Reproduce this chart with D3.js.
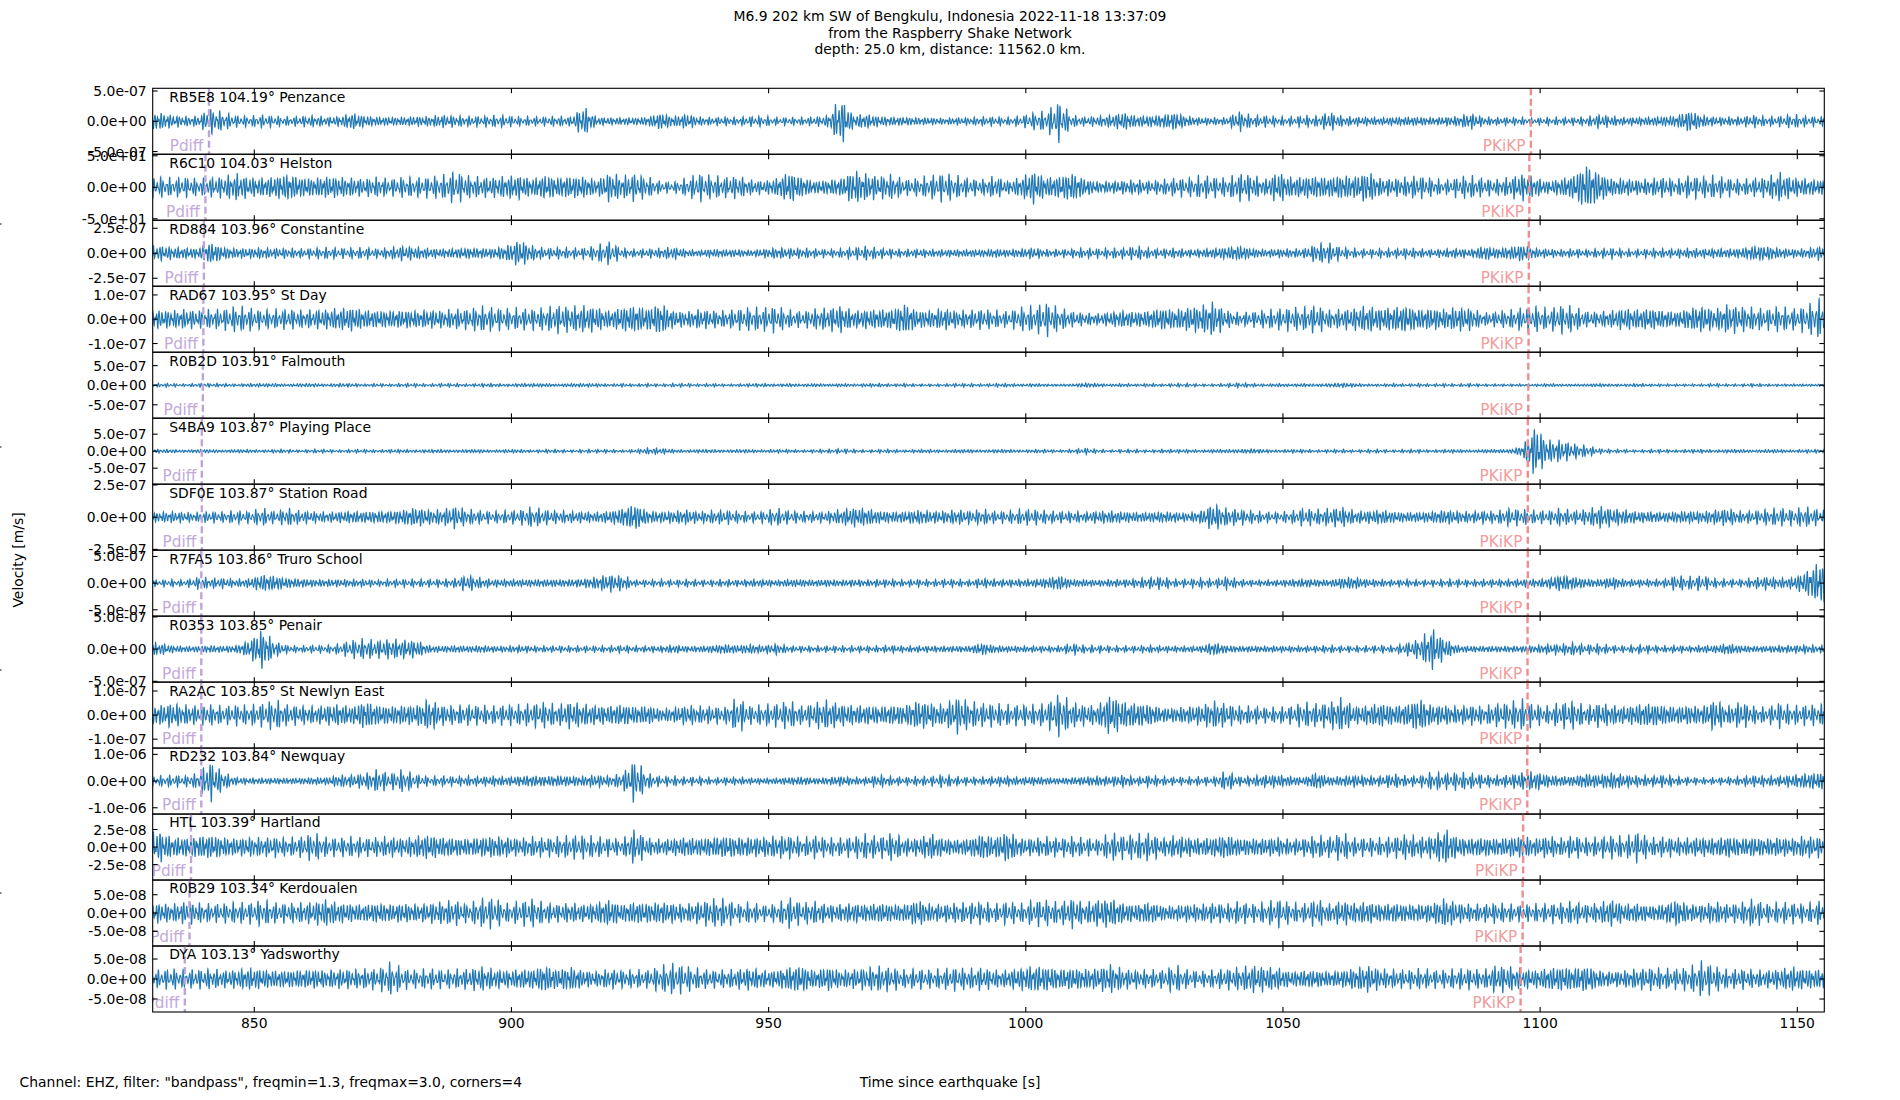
<!DOCTYPE html>
<html><head><meta charset="utf-8">
<script src="https://cdn.jsdelivr.net/npm/d3@7/dist/d3.min.js"></script>
<style>body{margin:0;background:#fff} text{font-family:"DejaVu Sans",sans-serif;}</style>
</head><body>
<svg id="chart" width="1900" height="1100"></svg>
<script>
// ---------------- DATA ----------------
const titleLines = ["M6.9 202 km SW of Bengkulu, Indonesia 2022-11-18 13:37:09",
  "from the Raspberry Shake Network", "depth: 25.0 km, distance: 11562.0 km."];
const stationIds = ["RB5E8","R6C10","RD884","RAD67","R0B2D","S4BA9","SDF0E","R7FA5","R0353","RA2AC","RD232","HTL","R0B29","DYA"];
const distances = ["104.19","104.03","103.96","103.95","103.91","103.87","103.87","103.86","103.85","103.85","103.84","103.39","103.34","103.13"];
const places = ["Penzance","Helston","Constantine","St Day","Falmouth","Playing Place","Station Road","Truro School","Penair","St Newlyn East","Newquay","Hartland","Kerdoualen","Yadsworthy"];
const pdiffTimes = [841.2,840.5,840.2,840.1,840.0,839.8,839.8,839.7,839.7,839.7,839.7,837.7,837.4,836.5];
const pkikpTimes = [1098.2,1097.9,1097.8,1097.75,1097.7,1097.6,1097.6,1097.6,1097.55,1097.55,1097.5,1096.7,1096.6,1096.2];
const yLimits = [5.45e-7,52.4,3.3e-7,1.358e-7,8.42e-7,9.7e-7,2.56e-7,6.19e-7,5.12e-7,1.37e-7,1.236e-6,4.7e-8,9.0e-8,8.25e-8];
const yTicks = [[-5e-7,0,5e-7],[-50,0,50],[-2.5e-7,0,2.5e-7],[-1e-7,0,1e-7],[-5e-7,0,5e-7],[-5e-7,0,5e-7],
  [-2.5e-7,0,2.5e-7],[-5e-7,0,5e-7],[-5e-7,0,5e-7],[-1e-7,0,1e-7],[-1e-6,0,1e-6],[-2.5e-8,0,2.5e-8],[-5e-8,0,5e-8],[-5e-8,0,5e-8]];
const xTicks = [850,900,950,1000,1050,1100,1150];
const timeRange = [830.25, 1155.25];
const binWidth = 2.5; // seconds per envelope value
// velocity per envelope step (m/s; counts for R6C10)
const envUnit = [0.982e-8,0.945,0.595e-8,0.245e-8,1.52e-8,1.75e-8,0.463e-8,1.116e-8,0.925e-8,0.247e-8,2.23e-8,0.085e-8,0.163e-8,0.149e-8];
// peak amplitude per 2.5 s window
const env_RB5E8 = [14,10,8,8,20,14,9,8,10,8, 7,8,9,7,8,14,9,7,7,7, 8,8,10,9,8,8,9,9,7,7, 7,8,7,24,7,6,6,6,7,14, 8,12,7,6,7,6,8,8,6,6, 6,7,9,38,10,12,8,7,7,6, 6,5,6,6,7,7,6,8,13,16, 32,9,7,8,10,15,9,9,10,15, 8,6,6,6,16,9,9,7,7,9, 8,15,8,7,7,6,7,7,7,6, 7,8,13,7,6,6,6,5,6,6, 6,7,11,8,6,7,7,8,9,18, 10,7,7,7,10,7,8,11,8,7];
const env_R6C10 = [16,14,16,13,15,17,22,16,15,18, 22,16,15,18,17,15,14,16,13,16, 15,16,18,25,18,16,16,18,20,14, 20,16,18,18,12,24,18,22,16,9, 8,14,22,18,16,18,12,10,14,26, 16,10,12,14,28,22,18,20,12,14, 18,22,18,14,12,18,10,16,28,16, 18,24,14,9,10,11,12,10,12,14, 14,18,16,14,22,20,12,26,16,18, 18,16,20,18,26,14,14,16,18,14, 10,16,18,14,12,16,22,16,10,14, 20,38,24,14,14,12,14,16,12,18, 16,18,14,12,14,16,24,16,14,12];
const env_RD884 = [12,10,9,8,18,10,8,8,9,8, 8,7,8,9,8,8,9,7,9,12, 10,8,7,8,9,8,8,12,22,12, 8,9,8,8,12,18,8,6,7,8, 10,6,5,7,6,6,5,7,9,8, 8,7,6,7,9,11,8,7,6,7, 6,6,6,6,6,7,6,7,9,6, 6,7,8,7,8,8,11,8,7,8, 6,7,8,10,12,8,6,7,7,7, 15,16,9,7,6,7,7,8,7,6, 7,8,6,12,8,10,14,8,7,6, 7,6,7,8,6,6,7,7,7,8, 7,8,7,8,12,12,8,7,7,11];
const env_RAD67 = [15,14,16,14,15,16,20,18,14,15, 16,14,15,16,18,20,15,14,14,15, 14,15,14,16,16,20,18,16,17,16, 18,22,20,22,20,14,20,22,18,26, 14,12,16,14,13,16,18,18,20,14, 12,16,18,22,14,16,16,16,26,14, 14,18,14,14,16,14,12,18,20,26, 18,12,10,9,12,14,12,14,18,16, 20,22,28,14,10,12,14,16,18,18, 22,14,16,18,22,18,20,22,16,18, 16,20,18,10,12,14,18,20,16,22, 20,12,12,14,18,16,18,14,12,18, 22,16,24,20,18,16,20,16,20,30];
const env_R0B2D = [3,3,2,3,3,3,2,3,3,3, 2,3,3,2,3,3,2,3,2,3, 3,2,3,3,2,3,3,2,3,3, 3,2,3,3,3,2,3,2,3,2, 3,3,2,3,2,2,3,3,2,3, 2,3,2,3,2,3,3,2,3,2, 2,2,3,3,2,3,3,2,3,2, 2,2,4,3,2,3,2,3,2,3, 3,2,2,3,4,3,2,3,2,3, 2,3,4,3,2,2,3,2,3,2, 3,2,3,2,2,2,2,2,3,2, 2,2,3,2,2,3,2,2,2,2, 2,3,2,2,3,2,2,2,2,2];
const env_S4BA9 = [3,3,2,3,3,2,3,3,2,3, 3,2,3,3,2,3,3,2,3,3, 2,3,3,2,3,3,2,3,3,2, 3,3,2,3,3,3,2,3,5,5, 3,2,3,3,2,3,3,2,3,3, 2,3,3,4,3,2,3,3,2,3, 3,2,3,3,2,3,3,2,3,3, 2,3,5,3,2,3,3,2,3,3, 3,2,3,3,3,4,3,2,3,3, 2,3,3,2,3,3,2,3,3,2, 3,3,2,3,3,3,8,42,18,18, 12,9,4,3,3,2,3,3,2,3, 3,2,3,3,2,3,3,2,3,3];
const env_SDF0E = [8,9,8,7,9,8,10,9,14,9, 14,10,9,8,9,10,9,10,10,12, 16,12,12,18,12,10,9,10,11,16, 12,10,9,9,8,10,14,22,10,9, 10,12,9,10,11,9,8,9,14,10, 9,8,9,12,16,14,10,9,9,12, 10,10,12,10,12,9,9,12,12,10, 9,9,8,10,10,9,8,8,9,8, 7,10,22,14,12,10,8,8,9,14, 12,14,16,10,10,12,9,8,8,9, 12,10,9,10,9,14,12,10,10,14, 10,12,18,14,12,9,9,8,9,10, 9,12,14,9,10,12,14,12,16,12];
const env_R7FA5 = [5,6,5,9,8,8,6,7,14,12, 8,7,6,6,6,6,6,5,6,6, 6,6,6,7,13,8,6,6,6,6, 6,6,6,7,10,14,12,5,5,6, 5,6,5,5,6,5,6,6,5,6, 6,5,6,5,6,5,6,6,5,6, 5,6,6,5,8,6,6,6,6,8, 12,6,6,5,6,6,7,9,10,6, 6,8,6,10,6,5,5,5,6,7, 6,5,9,10,6,6,5,6,5,5, 6,6,5,6,6,6,6,6,8,14, 10,7,6,10,6,6,6,6,12,10, 12,7,6,6,8,10,8,9,18,34];
const env_R0353 = [10,6,5,5,6,5,6,14,32,12, 6,5,6,6,8,14,16,14,16,15, 14,6,5,6,5,6,5,5,6,5, 5,5,5,5,5,5,6,5,5,5, 7,5,5,6,8,6,8,6,9,5, 5,5,5,5,5,5,5,6,5,5, 5,5,5,5,10,6,5,5,5,5, 5,9,6,6,5,5,5,6,5,5, 5,5,11,6,5,5,5,5,5,5, 5,6,5,5,5,6,5,10,16,34, 16,6,5,5,5,5,5,6,8,8, 10,7,8,6,5,7,6,5,6,5, 6,6,9,6,5,5,6,6,7,6];
const env_RA2AC = [16,20,16,15,16,14,16,15,18,24, 16,15,14,16,18,14,24,16,15,16, 16,26,16,15,16,15,14,16,16,18, 20,16,22,18,16,15,18,14,16,10, 12,16,14,14,12,28,14,16,18,22, 14,20,24,18,16,16,14,16,16,24, 20,16,30,22,18,18,16,16,16,18, 34,20,16,16,34,22,20,18,12,12, 14,16,22,18,14,14,12,12,14,20, 18,20,28,14,16,20,16,18,28,16, 16,14,16,14,18,20,24,16,14,20, 22,14,20,16,14,18,20,16,14,16, 14,26,14,22,14,12,20,14,16,16];
const env_RD232 = [8,9,8,12,32,14,6,5,5,5, 5,5,6,6,10,10,12,18,12,18, 10,7,8,7,8,7,8,7,8,9, 8,9,8,8,10,8,12,34,12,7, 8,6,7,5,6,6,5,5,5,6, 7,5,6,8,6,6,10,7,6,7, 7,10,7,6,6,7,8,6,7,6, 5,6,7,8,7,10,6,9,7,6, 6,7,6,16,7,8,10,10,8,6, 14,7,8,10,8,8,12,8,8,14, 12,14,12,10,8,10,14,16,10,8, 8,12,10,14,10,9,8,10,7,6, 5,5,6,7,9,8,8,10,12,14];
const env_HTL = [26,16,16,18,20,16,14,16,15,16, 14,16,22,15,14,16,14,15,16,14, 18,20,16,15,14,16,18,16,14,16, 14,16,18,18,16,14,12,28,14,12, 14,16,14,16,18,16,16,16,18,18, 14,18,14,14,16,20,16,22,14,14, 22,14,12,14,22,16,26,14,14,16, 14,16,14,12,22,18,20,22,14,18, 16,14,16,20,14,14,14,16,12,14, 18,16,22,14,14,14,16,20,16,18, 30,16,14,16,14,16,18,14,18,14, 18,14,16,18,16,24,14,16,14,14, 16,14,18,14,16,14,16,14,18,16];
const env_R0B29 = [16,14,18,16,14,15,16,16,20,16, 15,16,18,22,16,15,14,16,14,16, 14,16,18,20,14,22,24,14,18,22, 16,14,16,14,16,22,14,18,16,18, 16,14,18,22,22,14,16,12,14,24, 16,18,14,14,16,14,16,14,14,22, 14,14,16,16,18,14,18,14,20,20, 16,24,16,22,24,16,14,18,12,12, 14,14,16,14,18,14,16,22,16,14, 22,14,20,16,18,14,16,14,14,16, 24,16,14,14,16,14,12,14,14,16, 18,14,16,22,14,16,12,14,22,14, 14,18,14,16,22,14,16,16,14,18];
const env_DYA = [14,16,14,15,16,14,15,18,16,14, 14,15,16,14,16,15,16,16,26,16, 14,16,14,15,16,20,16,14,16,16, 22,16,20,14,12,16,14,14,14,20, 24,20,16,14,14,16,18,14,14,20, 22,14,20,14,16,18,20,18,14,16, 14,16,18,16,18,14,14,18,22,20, 16,18,16,18,24,16,14,14,14,22, 14,12,14,16,18,22,20,18,12,14, 14,12,14,18,22,16,14,14,16,14, 14,16,16,14,22,20,16,14,18,20, 18,22,14,12,14,16,18,16,16,18, 28,20,14,16,14,14,16,20,16,16];
const envelopes = [env_RB5E8,env_R6C10,env_RD884,env_RAD67,env_R0B2D,env_S4BA9,env_SDF0E,env_R7FA5,env_R0353,env_RA2AC,env_RD232,env_HTL,env_R0B29,env_DYA];

// ---------------- LAYOUT ----------------
const L = 152.7, R = 1824.3, T = 88.3, B = 1012;
const n = stationIds.length;
const ph = (B - T) / n;
const svg = d3.select("#chart");
const x = d3.scaleLinear().domain(timeRange).range([L, R]);
const fs = 13.9, tickLen = 4.9;
const fmtE = v => v.toExponential(1).replace(/e([+-])(\d)$/, "e$10$2");

function envAt(arr, t) {
  const u = (t - timeRange[0]) / binWidth - 0.5;
  const k = Math.floor(u), f = u - k;
  const c = i => arr[Math.max(0, Math.min(arr.length - 1, i))];
  return c(k) + (c(k + 1) - c(k)) * f;
}

const defs = svg.append("defs");
const dt = 0.04;

for (let i = 0; i < n; i++) {
  const top = T + i * ph, bot = top + ph;
  const y = d3.scaleLinear().domain([-yLimits[i], yLimits[i]]).range([bot, top]);
  const g = svg.append("g");
  defs.append("clipPath").attr("id", "clip" + i).append("rect")
    .attr("x", L).attr("y", top).attr("width", R - L).attr("height", ph);
  const inner = g.append("g").attr("clip-path", `url(#clip${i})`);

  // waveform: envelope, drawn with a band-limited carrier
  const p1 = i * 1.37, p2 = i * 2.11 + 0.5, p3 = i * 0.73 + 1.1;
  const pts = [];
  for (let t = timeRange[0]; t <= timeRange[1] + 1e-9; t += dt) {
    const c = 1.2 * (0.5 * Math.sin(2 * Math.PI * 1.67 * t + p1) + 0.3 * Math.sin(2 * Math.PI * 2.29 * t + p2) + 0.2 * Math.sin(2 * Math.PI * 2.89 * t + p3));
    pts.push([t, envAt(envelopes[i], t) * envUnit[i] * c]);
  }
  inner.append("path").datum(pts)
    .attr("d", d3.line().x(d => x(d[0])).y(d => y(d[1])))
    .attr("fill", "none").attr("stroke", "#1f77b4").attr("stroke-width", 1.1);

  // phase markers
  inner.append("line").attr("x1", x(pdiffTimes[i])).attr("x2", x(pdiffTimes[i])).attr("y1", top).attr("y2", bot)
    .attr("stroke", "#bfa4d7").attr("stroke-width", 2.4).attr("stroke-dasharray", "7,3.5");
  inner.append("line").attr("x1", x(pkikpTimes[i])).attr("x2", x(pkikpTimes[i])).attr("y1", top).attr("y2", bot)
    .attr("stroke", "#ee8f8f").attr("stroke-width", 2.4).attr("stroke-dasharray", "7,3.5");
  inner.append("text").attr("x", x(pdiffTimes[i]) - 5.6).attr("y", bot - 3.6)
    .attr("text-anchor", "end").attr("font-size", 15.3).attr("fill", "#c3a8da").text("Pdiff");
  inner.append("text").attr("x", x(pkikpTimes[i]) - 5.4).attr("y", bot - 3.6)
    .attr("text-anchor", "end").attr("font-size", 15.3).attr("fill", "#f29c9c").text("PKiKP");

  // station label
  g.append("text").attr("x", L + 16.6).attr("y", top + 13.4).attr("font-size", fs).attr("fill", "#000")
    .text(`${stationIds[i]} ${distances[i]}\u00b0 ${places[i]}`);

  // y ticks & labels
  yTicks[i].forEach(v => {
    const yy = y(v);
    g.append("line").attr("x1", L).attr("x2", L + tickLen).attr("y1", yy).attr("y2", yy).attr("stroke", "#000").attr("stroke-width", 1.1);
    g.append("line").attr("x1", R - tickLen).attr("x2", R).attr("y1", yy).attr("y2", yy).attr("stroke", "#000").attr("stroke-width", 1.1);
    g.append("text").attr("x", L - 6).attr("y", yy).attr("dy", "0.36em").attr("text-anchor", "end")
      .attr("font-size", fs).attr("fill", "#000").text(fmtE(v));
  });
  // x ticks (inward, top and bottom)
  xTicks.forEach(v => {
    const xx = x(v);
    g.append("line").attr("x1", xx).attr("x2", xx).attr("y1", top).attr("y2", top + tickLen).attr("stroke", "#000").attr("stroke-width", 1.1);
    g.append("line").attr("x1", xx).attr("x2", xx).attr("y1", bot - tickLen).attr("y2", bot).attr("stroke", "#000").attr("stroke-width", 1.1);
  });
  // frame
  g.append("rect").attr("x", L).attr("y", top).attr("width", R - L).attr("height", ph)
    .attr("fill", "none").attr("stroke", "#000").attr("stroke-width", 1.1);
}

// x tick labels on the bottom panel
xTicks.forEach(v => {
  svg.append("text").attr("x", x(v)).attr("y", 1028.3).attr("text-anchor", "middle")
    .attr("font-size", fs).attr("fill", "#000").text(v);
});

// title
titleLines.forEach((s, k) => {
  svg.append("text").attr("x", 950).attr("y", 21 + k * 16.6).attr("text-anchor", "middle")
    .attr("font-size", fs).attr("fill", "#000").text(s);
});
// y label
svg.append("text").attr("transform", "translate(23,560) rotate(-90)").attr("text-anchor", "middle")
  .attr("font-size", fs).attr("fill", "#000").text("Velocity [m/s]");
// footer texts
svg.append("text").attr("x", 19.6).attr("y", 1086.5).attr("font-size", fs).attr("fill", "#000")
  .text('Channel: EHZ, filter: "bandpass", freqmin=1.3, freqmax=3.0, corners=4');
svg.append("text").attr("x", 950).attr("y", 1086.5).attr("text-anchor", "middle").attr("font-size", fs).attr("fill", "#000")
  .text("Time since earthquake [s]");
// stray tick marks of the hidden label axis at the far left
[224, 447, 670, 893].forEach(yy => {
  svg.append("line").attr("x1", 0).attr("x2", 1.5).attr("y1", yy).attr("y2", yy).attr("stroke", "#000").attr("stroke-width", 1);
});
</script>
</body></html>
